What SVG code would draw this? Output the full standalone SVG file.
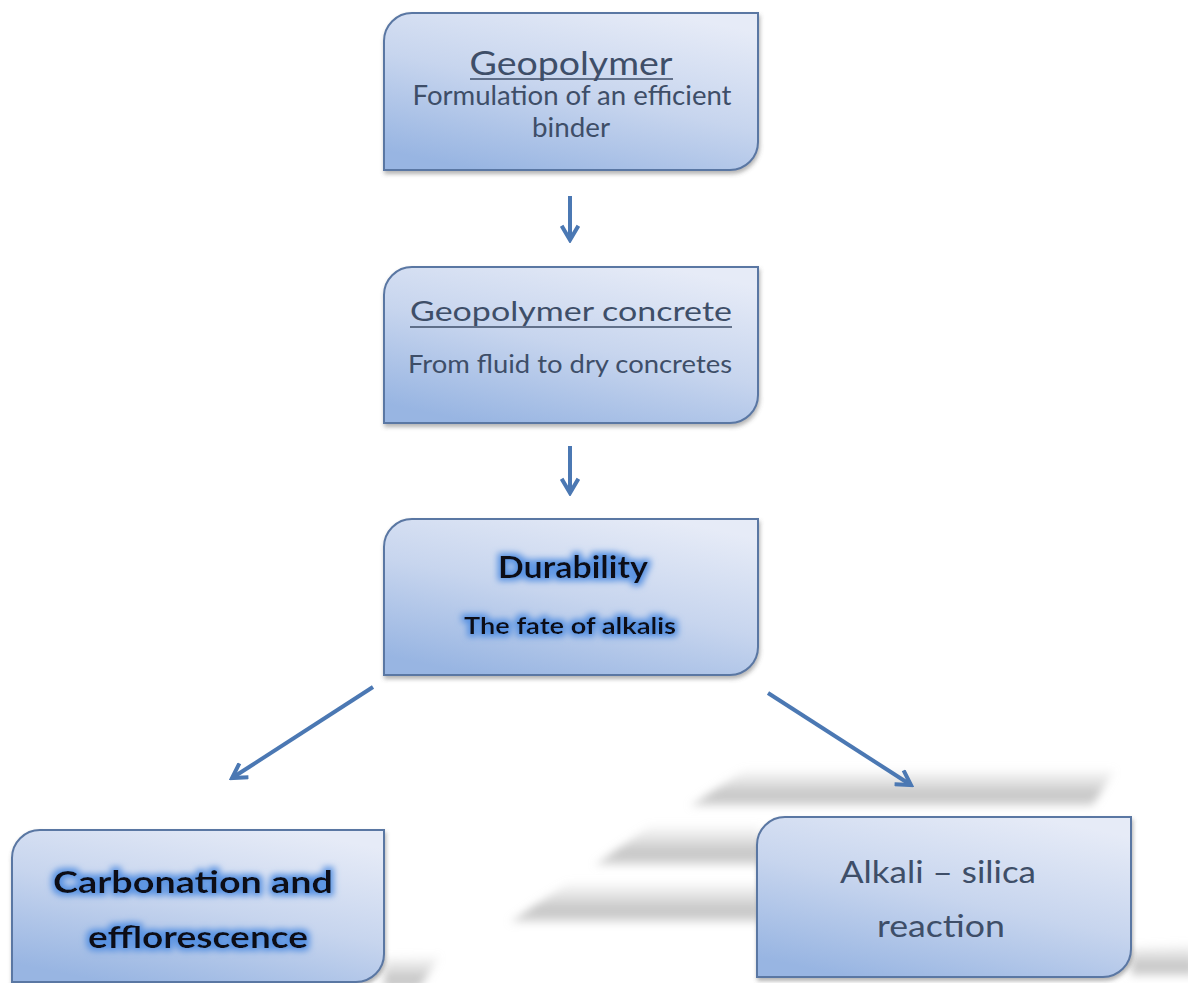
<svg xmlns="http://www.w3.org/2000/svg" width="1188" height="983" viewBox="0 0 1188 983">
<defs>
  <style>
    .box{fill:url(#boxGrad);stroke:#5a77a3;stroke-width:2;filter:url(#drop)}
    .lt{font-family:"Lato","Open Sans",sans-serif;fill:#3e4e68;text-anchor:middle}
    .bd{font-family:"Lato","Open Sans",sans-serif;font-weight:bold;fill:#0d0d12;text-anchor:middle;filter:url(#glow)}
    .ul{stroke:#3e4e68;stroke-width:1.6}
    .ulb{stroke:#0d0d12;stroke-width:2.6;filter:url(#glow)}
    .arr{fill:none;stroke:#4b78b3;stroke-width:4;marker-end:url(#head)}
    .shd{fill:url(#shGrad);filter:url(#blur)}
  </style>
  <linearGradient id="boxGrad" x1="0.75" y1="0" x2="0.25" y2="1">
    <stop offset="0" stop-color="#e6ebf7"/>
    <stop offset="0.5" stop-color="#c7d5ee"/>
    <stop offset="1" stop-color="#98b5e2"/>
  </linearGradient>
  <linearGradient id="shGrad" x1="0" y1="0" x2="0" y2="1">
    <stop offset="0" stop-color="#c4c4c4" stop-opacity="0.1"/>
    <stop offset="0.7" stop-color="#b5b5b5" stop-opacity="0.8"/>
    <stop offset="1" stop-color="#c0c0c0" stop-opacity="0.55"/>
  </linearGradient>
  <filter id="blur" x="-20%" y="-50%" width="140%" height="200%">
    <feGaussianBlur stdDeviation="4.5"/>
  </filter>
  <filter id="drop" x="-5%" y="-5%" width="110%" height="115%">
    <feGaussianBlur in="SourceAlpha" stdDeviation="2"/>
    <feOffset dx="1" dy="3" result="o"/>
    <feFlood flood-color="#555" flood-opacity="0.45"/>
    <feComposite in2="o" operator="in"/>
    <feMerge><feMergeNode/><feMergeNode in="SourceGraphic"/></feMerge>
  </filter>
  <filter id="glow" x="-20%" y="-40%" width="140%" height="180%">
    <feMorphology in="SourceAlpha" operator="dilate" radius="2.5" result="d"/>
    <feGaussianBlur in="d" stdDeviation="3" result="b"/>
    <feFlood flood-color="#5a93e2" flood-opacity="1"/>
    <feComposite in2="b" operator="in"/>
    <feMerge><feMergeNode/><feMergeNode in="SourceGraphic"/></feMerge>
  </filter>
  <marker id="head" viewBox="0 0 12 12" refX="10" refY="6" markerWidth="5" markerHeight="5" orient="auto" markerUnits="strokeWidth">
    <path d="M1.5,1 L10,6 L1.5,11" fill="none" stroke="#4b78b3" stroke-width="2.4" stroke-linejoin="miter"/>
  </marker>
</defs>
<rect width="1188" height="983" fill="#ffffff"/>

<g id="shadows">
  <polygon class="shd" points="745,770 1115,770 1092,806 690,806"/>
  <polygon class="shd" points="650,826 760,826 760,865 595,865"/>
  <polygon class="shd" points="568,883 760,883 760,922 510,922"/>
  <polygon class="shd" points="384,958 440,956 418,990 384,990"/>
  <polygon class="shd" points="1131,948 1195,944 1195,976 1131,976"/>
</g>

<g id="connectors">
  <line class="arr" x1="570" y1="196" x2="570" y2="240"/>
  <line class="arr" x1="570" y1="446" x2="570" y2="493"/>
  <line class="arr" x1="373" y1="687" x2="232" y2="778"/>
  <line class="arr" x1="768" y1="693" x2="911" y2="785"/>
</g>

<g id="node-geopolymer">
  <path class="box" d="M412,13 H758 V142 A28,28 0 0 1 730,170 H384 V41 A28,28 0 0 1 412,13 Z"/>
  <text class="lt" x="571" y="75" font-size="32" textLength="203" lengthAdjust="spacingAndGlyphs">Geopolymer</text>
  <line class="ul" x1="470" y1="79" x2="673" y2="79"/>
  <text class="lt" x="572" y="105" font-size="26" textLength="319" lengthAdjust="spacingAndGlyphs">Formulation of an efficient</text>
  <text class="lt" x="571" y="137" font-size="26" textLength="78" lengthAdjust="spacingAndGlyphs">binder</text>
</g>

<g id="node-concrete">
  <path class="box" d="M412,267 H758 V395 A28,28 0 0 1 730,423 H384 V295 A28,28 0 0 1 412,267 Z"/>
  <text class="lt" x="571" y="321" font-size="27" textLength="322" lengthAdjust="spacingAndGlyphs">Geopolymer concrete</text>
  <line class="ul" x1="410" y1="327" x2="732" y2="327"/>
  <text class="lt" x="570" y="373" font-size="25" textLength="324" lengthAdjust="spacingAndGlyphs">From fluid to dry concretes</text>
</g>

<g id="node-durability">
  <path class="box" d="M412,519 H758 V647 A28,28 0 0 1 730,675 H384 V547 A28,28 0 0 1 412,519 Z"/>
  <text class="bd" x="573" y="578" font-size="30" textLength="150" lengthAdjust="spacingAndGlyphs">Durability</text>
  <line class="ulb" x1="498" y1="584" x2="648" y2="584"/>
  <text class="bd" x="570" y="634" font-size="23" textLength="212" lengthAdjust="spacingAndGlyphs">The fate of alkalis</text>
</g>

<g id="node-carbonation">
  <path class="box" d="M40,830 H384 V954 A28,28 0 0 1 356,982 H12 V858 A28,28 0 0 1 40,830 Z"/>
  <text class="bd" x="193" y="893" font-size="31" textLength="280" lengthAdjust="spacingAndGlyphs">Carbonation and</text>
  <text class="bd" x="198" y="948" font-size="31" textLength="220" lengthAdjust="spacingAndGlyphs">efflorescence</text>
</g>

<g id="node-asr">
  <path class="box" d="M785,817 H1131 V949 A28,28 0 0 1 1103,977 H757 V845 A28,28 0 0 1 785,817 Z"/>
  <text class="lt" x="938" y="883" font-size="31" textLength="196" lengthAdjust="spacingAndGlyphs">Alkali – silica</text>
  <text class="lt" x="941" y="937" font-size="31" textLength="128" lengthAdjust="spacingAndGlyphs">reaction</text>
</g>
</svg>
